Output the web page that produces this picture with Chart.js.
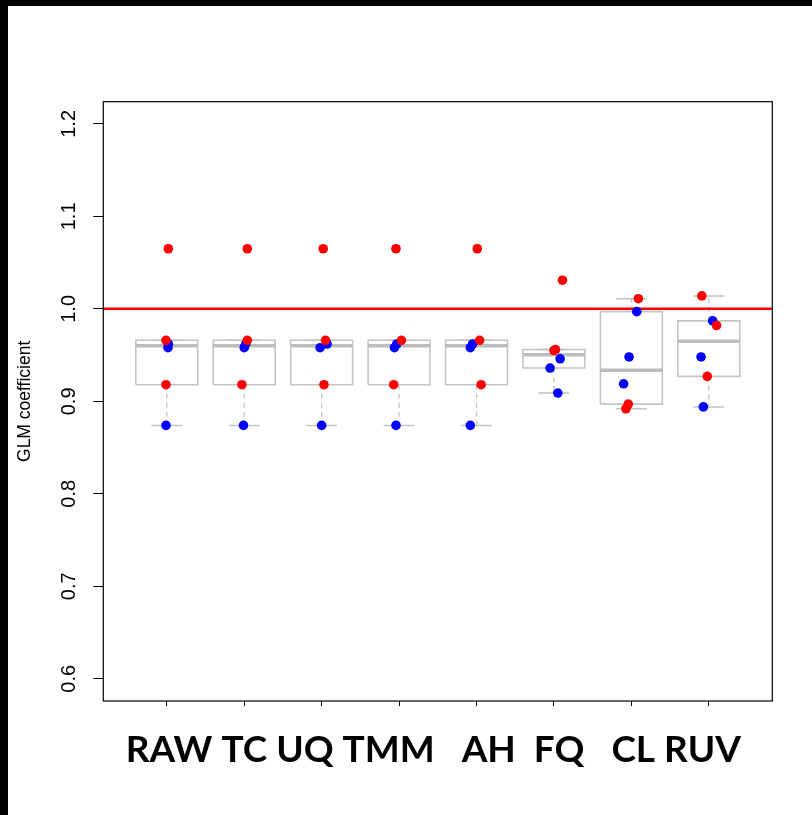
<!DOCTYPE html>
<html>
<head>
<meta charset="utf-8">
<script src="https://cdn.jsdelivr.net/npm/chart.js@4.4.1/dist/chart.umd.min.js"></script>
<style>
  html, body { margin: 0; padding: 0; background: #000; }
  #grafico { position: absolute; left: 8px; top: 6px; background: #fff; }
</style>
</head>
<body>
<canvas id="grafico" width="804" height="809"></canvas>
<script>
// Métodos de normalização (eixo X)
const metodos = ["RAW", "TC", "UQ", "TMM", "AH", "FQ", "CL", "RUV"];
// Espaços depois de cada nome na linha de rótulos
const espacos = [1, 1, 1, 3, 2, 3, 1, 1];

// Coeficientes GLM: pontos vermelhos e azuis de cada método
const valoresVermelhos = [
    [1.065, 0.966, 0.918],
    [1.065, 0.966, 0.918],
    [1.065, 0.966, 0.918],
    [1.065, 0.966, 0.918],
    [1.065, 0.966, 0.918],
    [1.031, 0.956, 0.955],
    [1.011, 0.897, 0.892],
    [1.014, 0.982, 0.927]
];
const valoresAzuis = [
    [0.962, 0.958, 0.874],
    [0.962, 0.958, 0.874],
    [0.962, 0.958, 0.874],
    [0.962, 0.958, 0.874],
    [0.962, 0.958, 0.874],
    [0.946, 0.936, 0.909],
    [0.997, 0.948, 0.919],
    [0.987, 0.948, 0.894]
];
// Deslocamento horizontal (jitter) de cada ponto
const jitterVermelho = [
    [0.02, -0.01, -0.01],
    [0.04, 0.04, -0.03],
    [0.02, 0.05, 0.03],
    [-0.04, 0.03, -0.07],
    [0.01, 0.04, 0.06],
    [0.11, 0.02, 0.00],
    [0.09, -0.04, -0.07],
    [-0.09, 0.10, -0.02]
];
const jitterAzul = [
    [0.02, 0.015, -0.01],
    [0.02, 0.00, -0.01],
    [0.07, -0.02, 0.00],
    [-0.03, -0.06, -0.04],
    [-0.05, -0.08, -0.08],
    [0.08, -0.05, 0.05],
    [0.07, -0.03, -0.10],
    [0.05, -0.10, -0.07]
];

const linhaReferencia = 1.0;
const ticksY = [0.6, 0.7, 0.8, 0.9, 1.0, 1.1, 1.2];
const limY = [0.576, 1.224];
const limX = [0.18, 8.82];

// fivenum do R + bigodes de 1.5 * IQR
function resumoBoxplot(valores) {
    const x = valores.slice().sort((a, b) => a - b);
    const n = x.length;
    const n4 = Math.floor((n + 3) / 2) / 2;
    const d = [1, n4, (n + 1) / 2, n + 1 - n4, n];
    const f = d.map(v => 0.5 * (x[Math.floor(v) - 1] + x[Math.ceil(v) - 1]));
    const iqr = f[3] - f[1];
    const lo = Math.min(...x.filter(v => v >= f[1] - 1.5 * iqr));
    const hi = Math.max(...x.filter(v => v <= f[3] + 1.5 * iqr));
    return { lo, q1: f[1], med: f[2], q3: f[3], hi };
}

const caixas = [], medianas = [], bigodes = [], hastes = [];
const pontosVermelhos = [], pontosAzuis = [];
const GAP = (x) => ({ x, y: null });

metodos.forEach((m, i) => {
    const c = i + 1;
    const s = resumoBoxplot(valoresVermelhos[i].concat(valoresAzuis[i]));
    caixas.push({ x: c - 0.4, y: s.q1 }, { x: c + 0.4, y: s.q1 }, { x: c + 0.4, y: s.q3 },
                { x: c - 0.4, y: s.q3 }, { x: c - 0.4, y: s.q1 }, GAP(c));
    medianas.push({ x: c - 0.4, y: s.med }, { x: c + 0.4, y: s.med }, GAP(c));
    bigodes.push({ x: c, y: s.q3 }, { x: c, y: s.hi }, GAP(c),
                 { x: c, y: s.q1 }, { x: c, y: s.lo }, GAP(c));
    hastes.push({ x: c - 0.2, y: s.hi }, { x: c + 0.2, y: s.hi }, GAP(c),
                { x: c - 0.2, y: s.lo }, { x: c + 0.2, y: s.lo }, GAP(c));
    valoresVermelhos[i].forEach((v, k) => pontosVermelhos.push({ x: c + jitterVermelho[i][k], y: v }));
    valoresAzuis[i].forEach((v, k) => pontosAzuis.push({ x: c + jitterAzul[i][k], y: v }));
});

const textoMetodos = metodos.map((m, i) => m + " ".repeat(espacos[i] || 0)).join("");

// Moldura completa em volta da área do gráfico
const moldura = {
    id: "moldura",
    afterDraw(chart) {
        const { ctx, chartArea: a } = chart;
        ctx.save();
        ctx.strokeStyle = "#000";
        ctx.lineWidth = 1.2;
        ctx.strokeRect(a.left, a.top, a.right - a.left, a.bottom - a.top);
        ctx.restore();
    }
};

const cinza = "#c4c4c4";
const linha = (data, extra) => Object.assign({
    data, showLine: true, pointRadius: 0, fill: false, spanGaps: false
}, extra);

const ctx = document.getElementById("grafico").getContext("2d");
const grafico = new Chart(ctx, {
    type: "scatter",
    data: {
        datasets: [
            { data: pontosVermelhos, backgroundColor: "#ff0000", borderWidth: 0, pointRadius: 4.8, order: 1 },
            { data: pontosAzuis, backgroundColor: "#0000ff", borderWidth: 0, pointRadius: 4.8, order: 2 },
            linha([{ x: limX[0], y: linhaReferencia }, { x: limX[1], y: linhaReferencia }],
                  { borderColor: "#ff0000", borderWidth: 2.5, order: 3 }),
            linha(medianas, { borderColor: "#bdbdbd", borderWidth: 3.5, order: 4 }),
            linha(caixas, { borderColor: cinza, borderWidth: 1.6, order: 5 }),
            linha(bigodes, { borderColor: cinza, borderWidth: 1.3, borderDash: [5, 4], order: 6 }),
            linha(hastes, { borderColor: cinza, borderWidth: 1.5, order: 6 })
        ]
    },
    options: {
        responsive: false,
        animation: false,
        layout: { padding: { top: 95.7, right: 39.7, bottom: 0, left: 0 } },
        plugins: { legend: { display: false }, tooltip: { enabled: false } },
        scales: {
            x: {
                type: "linear",
                min: limX[0],
                max: limX[1],
                afterBuildTicks: s => { s.ticks = metodos.map((m, i) => ({ value: i + 1 })); },
                afterFit: s => { s.height = 114; },
                grid: { drawOnChartArea: false, tickLength: 5, color: "#000", tickWidth: 1 },
                border: { display: false },
                ticks: { callback: () => "", padding: 0 },
                title: {
                    display: true,
                    text: textoMetodos,
                    color: "#000",
                    font: { family: "Lato", weight: "bold", size: 37 },
                    padding: { top: 0, bottom: 42.8 }
                }
            },
            y: {
                min: limY[0],
                max: limY[1],
                afterBuildTicks: s => { s.ticks = ticksY.map(v => ({ value: v })); },
                afterFit: s => { s.width = 95.3; },
                grid: { drawOnChartArea: false, tickLength: 10, color: "#000", tickWidth: 1 },
                border: { display: false },
                ticks: {
                    autoSkip: false,
                    minRotation: 90,
                    maxRotation: 90,
                    crossAlign: "center",
                    padding: 10.4,
                    color: "#000",
                    font: { family: "Liberation Sans", size: 20 },
                    callback: v => v.toFixed(1)
                },
                title: {
                    display: true,
                    text: "GLM coefficient",
                    color: "#000",
                    font: { family: "Liberation Sans", size: 17.5 },
                    padding: { top: 7, bottom: 0 }
                }
            }
        }
    },
    plugins: [moldura]
});
</script>
</body>
</html>
